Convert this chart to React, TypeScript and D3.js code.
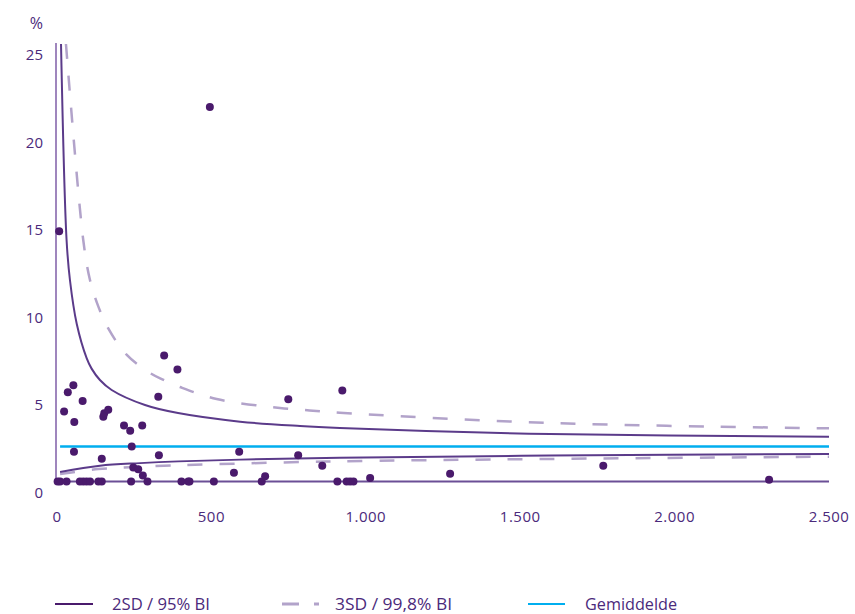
import React from "react";
import * as d3 from "d3";

// Scatter: [volume, percentage]
const dotN = [2, 10, 31, 74, 85, 96, 107, 134, 145, 240, 293, 403, 425, 429, 508, 663, 908, 938, 949, 960,
  7, 495, 23, 35, 53, 56, 55, 83, 145, 150, 153, 166, 217, 237, 242, 276, 247, 263, 278, 328, 330, 347, 390,
  573, 590, 674, 749, 781, 859, 924, 1014, 1273, 1769, 2306];
const dotV = [0, 0, 0, 0, 0, 0, 0, 0, 0, 0, 0, 0, 0, 0, 0, 0, 0, 0, 0, 0,
  14.3, 21.4, 4.0, 5.1, 5.5, 3.4, 1.7, 4.6, 1.3, 3.7, 3.9, 4.1, 3.2, 2.9, 2.0, 3.2, 0.8, 0.7, 0.35, 4.85, 1.5, 7.2, 6.4,
  0.5, 1.7, 0.3, 4.7, 1.5, 0.9, 5.2, 0.2, 0.45, 0.9, 0.1];

// Control limits
const up2N = [13, 31, 42, 64, 96, 112, 139, 177, 285, 392, 593, 787, 916, 1597, 2500];
const up2V = [25, 13.8, 11.5, 9.0, 7.05, 6.45, 5.8, 5.23, 4.37, 3.91, 3.42, 3.17, 3.06, 2.71, 2.56];
const up3N = [29, 85, 107, 134, 166, 226, 301, 343, 398, 517, 722, 797, 916, 1580, 2500];
const up3V = [25, 13.8, 11.5, 9.99, 8.75, 7.23, 6.2, 5.82, 5.4, 4.71, 4.2, 4.09, 3.93, 3.35, 3.04];
const lo2N = [10, 139, 269, 393, 593, 916, 1597, 2500];
const lo2V = [0.54, 0.9, 1.05, 1.15, 1.25, 1.36, 1.48, 1.57];
const lo3N = [10, 133, 236, 346, 871, 1597, 2500];
const lo3V = [0.43, 0.71, 0.81, 0.9, 1.14, 1.29, 1.42];
const meanN = [10, 2500];
const meanValue = 2.0;

const xTicks = [0, 500, 1000, 1500, 2000, 2500];
const xTickLabels = ["0", "500", "1.000", "1.500", "2.000", "2.500"];
const yTicks = [0, 5, 10, 15, 20, 25];
const yTickLabels = ["0", "5", "10", "15", "20", "25"];
const legendLabels = ["2SD / 95% BI", "3SD / 99,8% BI", "Gemiddelde"];

const TEXT = "#4b2a7b";
const DOT = "#4a1a6c";
const SOLID = "#5b3b8a";
const DASH = "#b2a3ca";
const AXIS = "#9f86bd";
const BASE = "#6b4f96";
const BLUE = "#00aeef";

export default function App() {
  const x = d3.scaleLinear().domain([0, 2500]).range([57, 829]);
  const y = d3.scaleLinear().domain([0, 25]).range([481.5, 44]);
  const line = d3
    .line<[number, number]>()
    .x((d) => x(d[0]))
    .y((d) => y(d[1]))
    .curve(d3.curveCatmullRom.alpha(0.5));
  const zip = (a: number[], b: number[]) => a.map((v, i) => [v, b[i]] as [number, number]);
  const font = "'Open Sans', sans-serif";

  return (
    <svg width={855} height={614} style={{ position: "absolute", left: 0, top: 0, background: "#fff" }}>
      {/* axes */}
      <line x1={56} x2={56} y1={43} y2={y(0)} stroke={AXIS} strokeWidth={2} />
      <line x1={56} x2={x(2500)} y1={y(0)} y2={y(0)} stroke={BASE} strokeWidth={2} />
      <text x={43} y={29} textAnchor="end" fill={TEXT} fontFamily={font} fontSize={16}>%</text>
      {yTicks.map((t, i) => (
        <text key={t} x={43} y={y(t) + 16} textAnchor="end" fill={TEXT} fontFamily={font} fontSize={15}>
          {yTickLabels[i]}
        </text>
      ))}
      {xTicks.map((t, i) => (
        <text key={t} x={x(t)} y={522} textAnchor="middle" fill={TEXT} fontFamily={font} fontSize={15} letterSpacing={0.5}>
          {xTickLabels[i]}
        </text>
      ))}
      {/* mean */}
      <line x1={x(meanN[0])} x2={x(meanN[1])} y1={y(meanValue)} y2={y(meanValue)} stroke={BLUE} strokeWidth={2.5} />
      {/* limits */}
      <path d={line(zip(up3N, up3V)) || ""} fill="none" stroke={DASH} strokeWidth={2.5} strokeDasharray="15 17" />
      <path d={line(zip(lo3N, lo3V)) || ""} fill="none" stroke={DASH} strokeWidth={2.5} strokeDasharray="15 17" />
      <path d={line(zip(up2N, up2V)) || ""} fill="none" stroke={SOLID} strokeWidth={2} />
      <path d={line(zip(lo2N, lo2V)) || ""} fill="none" stroke={SOLID} strokeWidth={2} />
      {/* dots */}
      {dotN.map((n, i) => (
        <circle key={i} cx={x(n)} cy={y(dotV[i])} r={4} fill={DOT} />
      ))}
      {/* legend */}
      <g fontFamily={font} fontSize={17} fill={TEXT}>
        <line x1={55} x2={93} y1={604} y2={604} stroke={DOT} strokeWidth={2} />
        <text x={112} y={610} textLength={98} lengthAdjust="spacingAndGlyphs">{legendLabels[0]}</text>
        <line x1={282} x2={319} y1={604} y2={604} stroke={DASH} strokeWidth={3} strokeDasharray="17 15" />
        <text x={335} y={610} textLength={117} lengthAdjust="spacingAndGlyphs">{legendLabels[1]}</text>
        <line x1={528} x2={565} y1={604} y2={604} stroke={BLUE} strokeWidth={2} />
        <text x={585} y={610} textLength={92} lengthAdjust="spacingAndGlyphs">{legendLabels[2]}</text>
      </g>
    </svg>
  );
}
